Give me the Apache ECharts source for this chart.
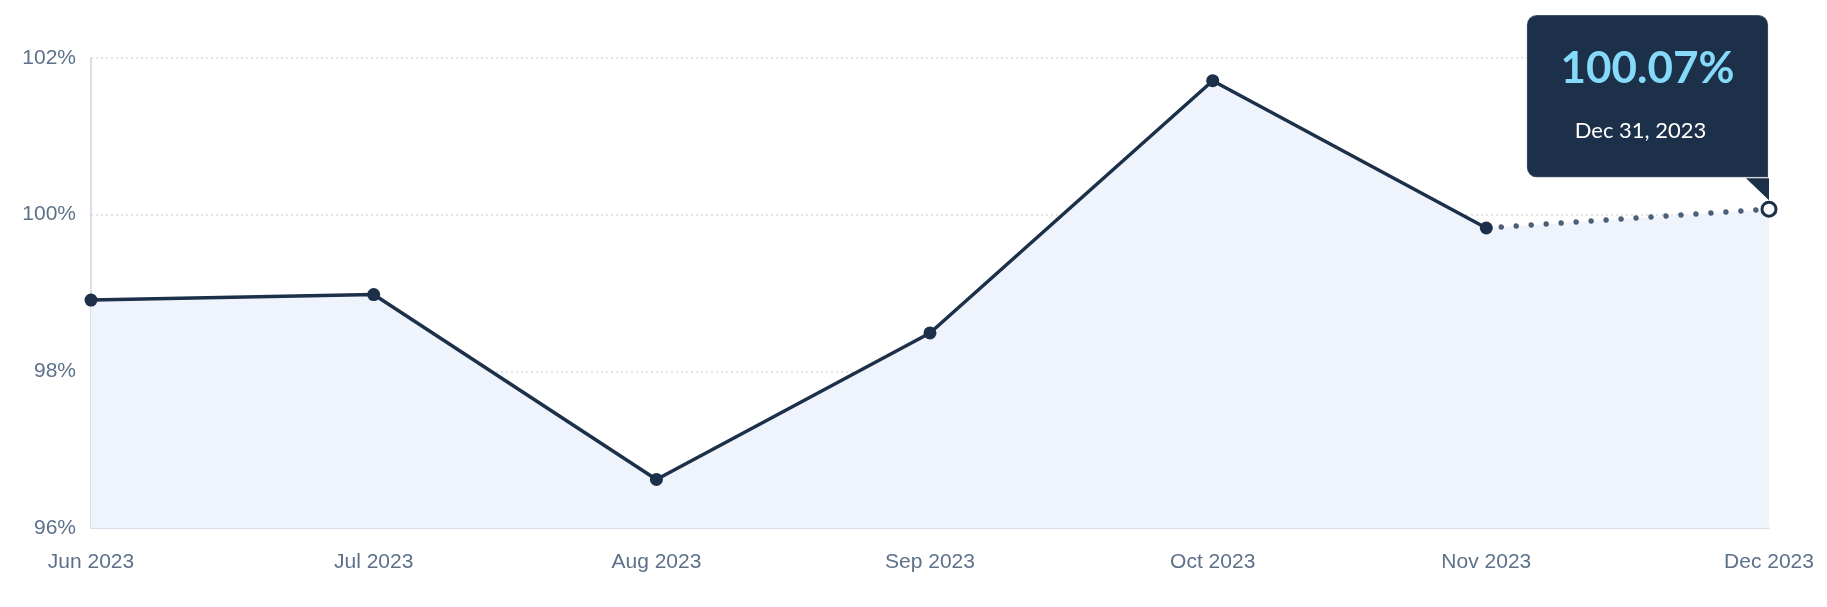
<!DOCTYPE html>
<html>
<head>
<meta charset="utf-8">
<script src="https://cdn.jsdelivr.net/npm/echarts@6/dist/echarts.min.js"></script>
<style>
html,body{margin:0;padding:0;background:#fff;}
#chart{width:1827px;height:607px;}
</style>
</head>
<body>
<div id="chart"></div>
<script>
// ---- data ----
var dates = ['2023-06-30', '2023-07-31', '2023-08-31', '2023-09-30', '2023-10-31', '2023-11-30', '2023-12-31'];
var values = [98.91, 98.98, 96.62, 98.49, 101.71, 99.83, 100.07];
var labelDates = ['2023-06-30', '2023-07-31', '2023-08-31', '2023-09-30', '2023-10-31', '2023-11-30', '2023-12-31'];
var monthNames = ['Jan','Feb','Mar','Apr','May','Jun','Jul','Aug','Sep','Oct','Nov','Dec'];
var yTicks = [96, 98, 100, 102];
var tipValue = '100.07%';
var tipDate = 'Dec 31, 2023';

function ts(d){ var p = d.split('-'); return Date.UTC(+p[0], +p[1]-1, +p[2]); }

var allPts = dates.map(function(d,i){ return [ts(d), values[i]]; });
var solidPts = allPts.slice(0, 6);
var dottedPts = allPts.slice(5, 7);
var last = allPts[allPts.length-1];

var NAVY = '#1c3049';
var LABEL = '#5d7189';

var chart = echarts.init(document.getElementById('chart'), null, {renderer:'canvas'});
var option = {
  animation: false,
  grid: {left: 91, right: 58, top: 58, bottom: 79, containLabel: false},
  xAxis: {
    type: 'value',
    min: ts(dates[0]),
    max: ts(dates[dates.length-1]),
    axisLine: {show: true, onZero: false, lineStyle: {color: '#d7dfea', width: 2}},
    axisTick: {show: false},
    splitLine: {show: false},
    axisLabel: {
      customValues: labelDates.map(ts),
      margin: 24,
      color: LABEL,
      fontFamily: 'Liberation Sans, Arial, sans-serif',
      fontSize: 21,
      formatter: function(v){ var d = new Date(v); return monthNames[d.getUTCMonth()] + ' ' + d.getUTCFullYear(); }
    }
  },
  yAxis: {
    type: 'value',
    min: yTicks[0],
    max: yTicks[yTicks.length-1],
    interval: 2,
    axisLine: {show: true, lineStyle: {color: '#d7dfea', width: 2}},
    axisTick: {show: false},
    splitLine: {show: true, lineStyle: {color: '#d5dbe3', type: [2, 3], width: 1.5}},
    axisLabel: {
      margin: 15,
      color: LABEL,
      fontFamily: 'Liberation Sans, Arial, sans-serif',
      fontSize: 21,
      formatter: '{value}%'
    }
  },
  series: [
    {
      name: 'area', type: 'line', data: allPts, symbol: 'none',
      lineStyle: {width: 0, opacity: 0},
      areaStyle: {color: '#eff3fc', opacity: 1, origin: 'start'},
      z: 1, silent: true
    },
    {
      name: 'dotted', type: 'line', data: dottedPts, symbol: 'none',
      lineStyle: {color: '#4b5f78', width: 5.5, type: [0.01, 15], cap: 'round'},
      z: 2, silent: true
    },
    {
      name: 'solid', type: 'line', data: solidPts,
      symbol: 'circle', symbolSize: 13, showSymbol: true,
      itemStyle: {color: NAVY},
      lineStyle: {color: NAVY, width: 3.5},
      z: 3, silent: true
    },
    {
      name: 'last', type: 'line', data: [last],
      symbol: 'circle', symbolSize: 14, showSymbol: true,
      itemStyle: {color: '#ffffff', borderColor: NAVY, borderWidth: 3},
      z: 4, silent: true,
      label: {
        show: true,
        position: [7, -24],
        align: 'right',
        verticalAlign: 'bottom',
        backgroundColor: NAVY,
        borderColor: '#4f6178',
        borderWidth: 0.6,
        borderRadius: [9, 9, 0, 9],
        padding: [12, 0, 25, 0],
        formatter: function(){ return '{v|' + tipValue + '}\n{d|' + tipDate + '}{s|}'; },
        rich: {
          v: {width: 240, align: 'center', color: '#85d9f9', fontFamily: 'Lato, sans-serif', fontWeight: 'bold', fontSize: 44, lineHeight: 82},
          d: {width: 226, align: 'center', color: '#ffffff', fontFamily: 'Lato, sans-serif', fontWeight: 400, fontSize: 22, lineHeight: 42},
          s: {width: 14, lineHeight: 42}
        }
      },
      markPoint: {
        silent: true,
        symbol: 'path://M0 0L23 0L23 22Z',
        symbolSize: [23, 22],
        symbolOffset: [-11.5, -20],
        itemStyle: {color: NAVY},
        label: {show: false},
        data: [{coord: last}]
      }
    }
  ]
};
chart.setOption(option);
</script>
</body>
</html>
